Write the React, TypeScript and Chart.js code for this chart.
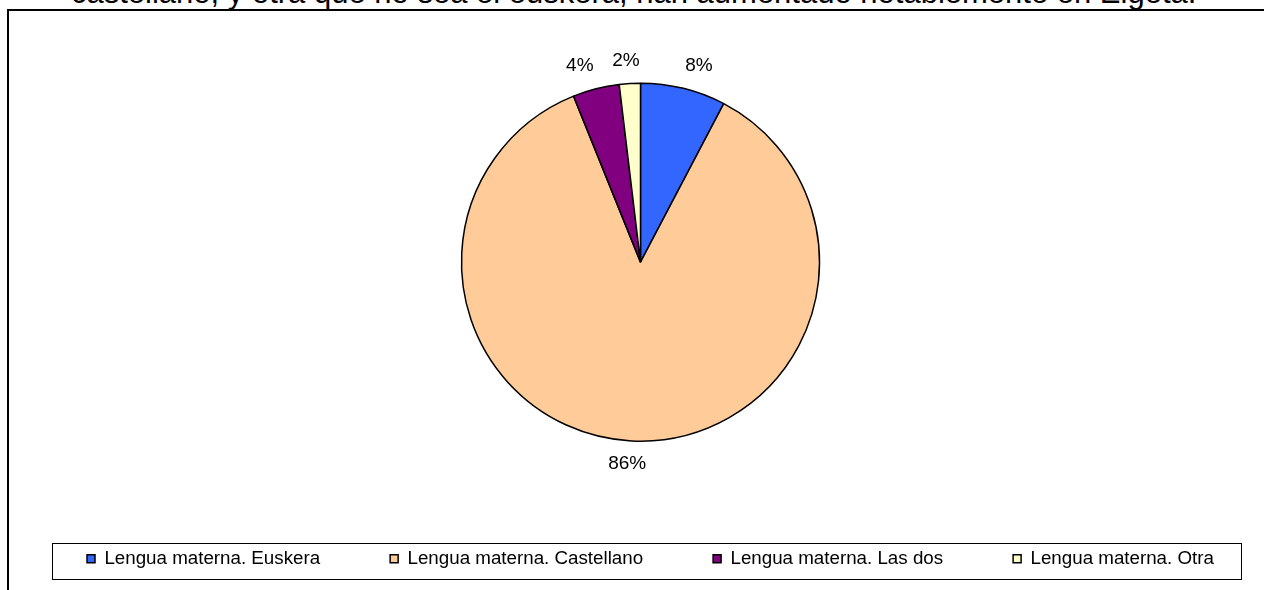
import React, { useEffect, useRef } from "react";
import { Chart, registerables } from "chart.js";

Chart.register(...registerables);

const categories = [
  "Lengua materna. Euskera",
  "Lengua materna. Castellano",
  "Lengua materna. Las dos",
  "Lengua materna. Otra",
];
const values = [7.7, 86.2, 4.2, 1.9];
const colors = ["#3366FF", "#FFCC99", "#800080", "#FFFFCC"];
const headerText =
  "castellano, y otra que no sea el euskera, han aumentado notablemente en Elgeta.";

const FONT = "'Liberation Sans', Arial, sans-serif";

const pctLabels = {
  id: "pctLabels",
  afterDatasetsDraw(chart: any) {
    const ctx = chart.ctx as CanvasRenderingContext2D;
    const meta = chart.getDatasetMeta(0);
    const data = chart.data.datasets[0].data as number[];
    const total = data.reduce((a, b) => a + b, 0);
    const clamp = (v: number) => Math.max(-1, Math.min(1, v));
    ctx.save();
    ctx.font = `19px ${FONT}`;
    ctx.fillStyle = "#000";
    ctx.textAlign = "center";
    ctx.textBaseline = "middle";
    meta.data.forEach((arc: any, i: number) => {
      const { x, y, startAngle, endAngle, outerRadius } = arc.getProps(
        ["x", "y", "startAngle", "endAngle", "outerRadius"],
        true
      );
      const mid = (startAngle + endAngle) / 2;
      const dx = Math.cos(mid);
      const dy = Math.sin(mid);
      const ax = x + (outerRadius + 10) * dx;
      const ay = y + (outerRadius + 10) * dy;
      const text = Math.round((data[i] / total) * 100) + "%";
      const w = ctx.measureText(text).width;
      ctx.fillText(text, ax + (w / 2) * clamp(4 * dx), ay + 13 * clamp(4 * dy));
    });
    ctx.restore();
  },
};

const legendFrame = {
  id: "legendFrame",
  afterDraw(chart: any) {
    const lg = chart.legend;
    const hb = lg && lg.legendHitBoxes;
    if (!hb || !hb.length) return;
    const ctx = chart.ctx as CanvasRenderingContext2D;
    const first = hb[0];
    const last = hb[hb.length - 1];
    const cy = first.top + first.height / 2;
    const left = Math.round(first.left - 35) + 0.5;
    const right = Math.round(last.left + last.width + 27) + 0.5;
    const top = Math.round(cy - 16) + 0.5;
    const bottom = Math.round(cy + 20) + 0.5;
    ctx.save();
    ctx.strokeStyle = "#000";
    ctx.lineWidth = 1;
    ctx.strokeRect(left, top, right - left, bottom - top);
    ctx.restore();
  },
};

export default function App() {
  const canvasRef = useRef<HTMLCanvasElement | null>(null);

  useEffect(() => {
    if (!canvasRef.current) return;
    const chart = new Chart(canvasRef.current, {
      type: "pie",
      data: {
        labels: categories,
        datasets: [
          {
            data: values,
            backgroundColor: colors,
            borderColor: "#000",
            borderWidth: 1.5,
            hoverOffset: 0,
          },
        ],
      },
      options: {
        animation: false,
        responsive: false,
        devicePixelRatio: 1,
        events: [],
        radius: 179,
        layout: { padding: { left: 17, right: 0, top: 45, bottom: 12 } },
        plugins: {
          tooltip: { enabled: false },
          title: {
            display: true,
            position: "right",
            text: " ",
            padding: 0,
            font: { size: 10, lineHeight: "56px" },
          },
          legend: {
            position: "bottom",
            align: "start",
            labels: {
              boxWidth: 8,
              boxHeight: 8,
              padding: 70,
              color: "#000",
              font: { size: 18.75, family: FONT },
            },
          },
        },
      } as any,
      plugins: [pctLabels, legendFrame],
    });
    return () => chart.destroy();
  }, []);

  return (
    <div
      style={{
        position: "fixed",
        left: 0,
        top: 0,
        width: 1264,
        height: 590,
        overflow: "hidden",
        background: "#fff",
      }}
    >
      <div
        style={{
          position: "absolute",
          left: 71,
          top: -25,
          whiteSpace: "nowrap",
          font: `31px ${FONT}`,
          lineHeight: "36px",
          color: "#000",
        }}
      >
        {headerText}
      </div>
      <canvas
        ref={canvasRef}
        width={1320}
        height={590}
        style={{ position: "absolute", left: 0, top: 0, width: 1320, height: 590 }}
      />
      <div
        style={{
          position: "absolute",
          left: 7,
          top: 9,
          width: 1400,
          height: 700,
          borderLeft: "2px solid #000",
          borderTop: "2px solid #000",
          pointerEvents: "none",
        }}
      />
    </div>
  );
}
